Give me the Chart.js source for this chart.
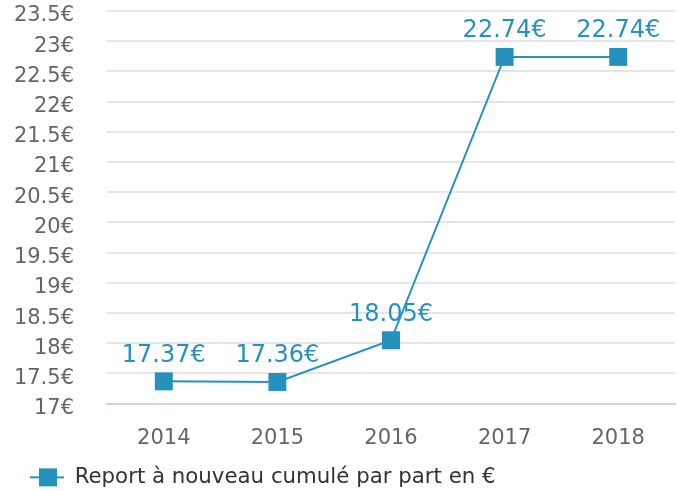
<!DOCTYPE html>
<html><head><meta charset="utf-8">
<script src="https://cdn.jsdelivr.net/npm/chart.js@4/dist/chart.umd.min.js"></script>
<style>html,body{margin:0;padding:0;background:#fff;}</style>
</head><body>
<canvas id="c" width="679" height="491"></canvas>
<script>
const categories = ['2014', '2015', '2016', '2017', '2018'];
const values = [17.37, 17.36, 18.05, 22.74, 22.74];
const valueLabels = ['17.37€', '17.36€', '18.05€', '22.74€', '22.74€'];
const yMin = 17, yMax = 23.5, yStep = 0.5;
const seriesName = 'Report à nouveau cumulé par part en €';

const COLOR = '#2591bd';
const FONT = "'DejaVu Sans', sans-serif";

// legend symbol: line with a square marker
const sym = document.createElement('canvas');
sym.width = 54; sym.height = 20;
(function(){
  const g = sym.getContext('2d');
  g.strokeStyle = COLOR; g.lineWidth = 2;
  g.beginPath(); g.moveTo(20, 10); g.lineTo(54, 10); g.stroke();
  g.fillStyle = COLOR; g.fillRect(29, 1, 18, 18);
})();

const valueLabelPlugin = {
  id: 'valueLabels',
  afterDatasetsDraw(chart) {
    const ctx = chart.ctx;
    const meta = chart.getDatasetMeta(0);
    ctx.save();
    ctx.font = "24px " + FONT;
    ctx.fillStyle = COLOR;
    ctx.textAlign = 'center';
    ctx.textBaseline = 'alphabetic';
    meta.data.forEach((el, i) => {
      ctx.fillText(valueLabels[i], el.x, el.y - 19.5);
    });
    ctx.restore();
  }
};

new Chart(document.getElementById('c'), {
  type: 'line',
  data: {
    labels: categories,
    datasets: [{
      label: seriesName,
      data: values,
      borderColor: COLOR,
      backgroundColor: COLOR,
      borderWidth: 2,
      tension: 0,
      pointStyle: 'rect',
      pointRadius: 12.7,
      pointHoverRadius: 12.7,
      pointBackgroundColor: COLOR,
      pointBorderColor: COLOR,
      pointBorderWidth: 0,
      clip: false
    }]
  },
  options: {
    responsive: false,
    animation: false,
    events: [],
    layout: { autoPadding: false, padding: { top: 11, right: 4, left: 0, bottom: -7 } },
    plugins: {
      tooltip: { enabled: false },
      legend: {
        position: 'bottom',
        align: 'start',
        labels: {
          usePointStyle: true,
          pointStyle: sym,
          pointStyleWidth: 54,
          padding: 10,
          color: '#333333',
          font: { family: FONT, size: 21.3 }
        }
      }
    },
    scales: {
      x: {
        offset: true,
        grid: { display: false, drawTicks: false },
        border: { display: true, color: '#ccd6eb', width: 2 },
        ticks: { color: '#666666', padding: 22, font: { family: FONT, size: 21 } },
        afterFit(s) { s.height = 53; }
      },
      y: {
        min: yMin, max: yMax,
        grid: { color: '#e6e6e6', lineWidth: 2, drawTicks: false },
        border: { display: false },
        ticks: {
          stepSize: yStep,
          color: '#666666',
          padding: 33,
          labelOffset: 5,
          font: { family: FONT, size: 21, lineHeight: 1 },
          callback: (v) => v + '€'
        },
        afterFit(s) { s.width = 107; s.paddingTop = 0; s.paddingBottom = 0; }
      }
    }
  },
  plugins: [valueLabelPlugin]
});
</script>
</body></html>
